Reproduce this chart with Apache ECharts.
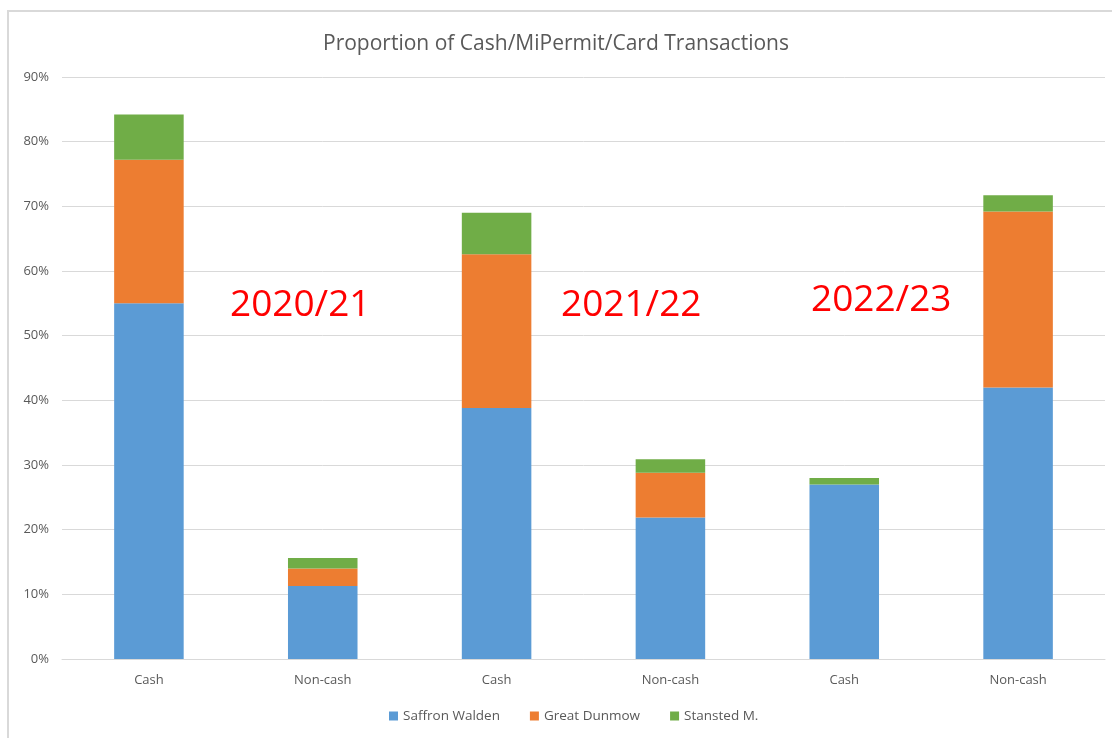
<!DOCTYPE html>
<html>
<head>
<meta charset="utf-8">
<title>Proportion of Cash/MiPermit/Card Transactions</title>
<script src="https://cdn.jsdelivr.net/npm/echarts@6/dist/echarts.min.js"></script>
<style>
  html, body { margin: 0; padding: 0; background: #fff; }
  #frame {
    position: absolute; left: 7px; top: 10px; width: 1120px; height: 740px;
    border-left: 2px solid #d9d9d9; border-top: 2px solid #d9d9d9;
  }
  #chart { position: absolute; left: 0; top: 0; width: 1112px; height: 738px; }
</style>
</head>
<body>
<div id="frame"></div>
<div id="chart"></div>
<script>
// categories and values (percent)
const categories = ["Cash", "Non-cash", "Cash", "Non-cash", "Cash", "Non-cash"];
const saffronWalden = [55.0, 11.3, 38.8, 21.9, 27.0, 42.0];
const greatDunmow = [22.2, 2.7, 23.8, 6.9, 0, 27.2];
const stanstedM = [7.0, 1.6, 6.4, 2.1, 1.0, 2.5];
const yearLabels = ["2020/21", "2021/22", "2022/23"];

const chart = echarts.init(document.getElementById("chart"));

const font = "'Open Sans', 'DejaVu Sans', sans-serif";
const grey = "#595959";

function barSeries(name, data, color) {
  return {
    name: name,
    type: "bar",
    stack: "total",
    barWidth: "40%",
    itemStyle: { color: color },
    data: data,
  };
}

chart.setOption({
  animation: false,
  textStyle: { fontFamily: font },
  title: {
    text: "Proportion of Cash/MiPermit/Card Transactions",
    left: "center",
    top: 29,
    textStyle: { fontSize: 21, fontWeight: "normal", color: grey, fontFamily: font },
  },
  legend: {
    bottom: 10,
    left: 384,
    itemWidth: 9,
    itemHeight: 9,
    itemGap: 30,
    icon: "rect",
    textStyle: { fontSize: 13.5, color: grey, fontFamily: font },
    data: ["Saffron Walden", "Great Dunmow", "Stansted M."],
  },
  grid: {
    left: 62,
    right: 7,
    top: 77,
    bottom: 79,
  },
  xAxis: {
    type: "category",
    data: categories,
    axisLine: { lineStyle: { color: "#d9d9d9" } },
    axisTick: { show: false },
    axisLabel: { color: grey, fontSize: 13, margin: 15, fontFamily: font },
  },
  yAxis: {
    type: "value",
    min: 0,
    max: 90,
    interval: 10,
    axisLine: { show: false },
    axisTick: { show: false },
    splitLine: { lineStyle: { color: "#d9d9d9" } },
    axisLabel: {
      color: grey,
      fontSize: 13,
      margin: 13,
      fontFamily: font,
      formatter: "{value}%",
    },
  },
  graphic: [
    {
      type: "text", left: 230, top: 287,
      style: { text: yearLabels[0], fill: "#ff0000", fontSize: 37, fontFamily: font },
    },
    {
      type: "text", left: 561, top: 287,
      style: { text: yearLabels[1], fill: "#ff0000", fontSize: 37, fontFamily: font },
    },
    {
      type: "text", left: 811, top: 282,
      style: { text: yearLabels[2], fill: "#ff0000", fontSize: 37, fontFamily: font },
    },
  ],
  series: [
    barSeries("Saffron Walden", saffronWalden, "#5b9bd5"),
    barSeries("Great Dunmow", greatDunmow, "#ed7d31"),
    barSeries("Stansted M.", stanstedM, "#70ad47"),
  ],
});
</script>
</body>
</html>
